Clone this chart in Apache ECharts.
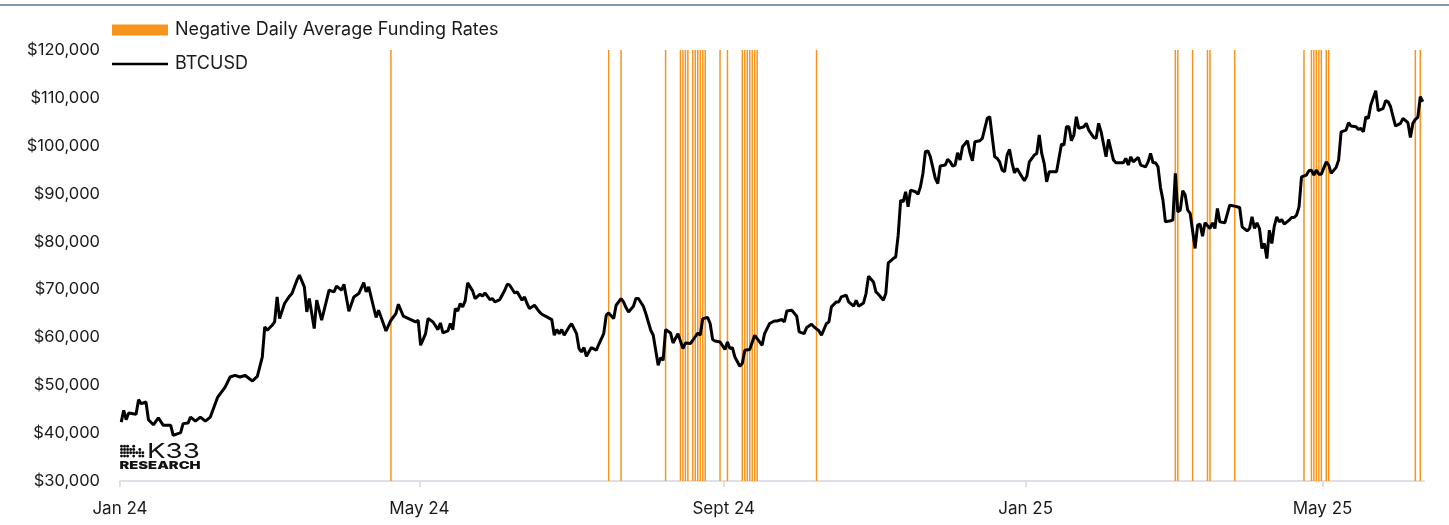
<!DOCTYPE html>
<html>
<head>
<meta charset="utf-8">
<script src="https://cdn.jsdelivr.net/npm/echarts@6/dist/echarts.min.js"></script>
<style>html,body{margin:0;padding:0;background:#fff;}#chart{width:1449px;height:525px;}</style>
</head>
<body>
<div id="chart"></div>
<script>
// ---------- DATA ----------
const btcDates = [
'2024-01-01','2024-01-02','2024-01-03','2024-01-04','2024-01-07','2024-01-08','2024-01-09','2024-01-11','2024-01-12','2024-01-14',
'2024-01-16','2024-01-18','2024-01-21','2024-01-22','2024-01-25','2024-01-26','2024-01-28','2024-01-29','2024-01-31','2024-02-02',
'2024-02-04','2024-02-06','2024-02-09','2024-02-12','2024-02-14','2024-02-16','2024-02-18','2024-02-20','2024-02-23','2024-02-25',
'2024-02-27','2024-02-28','2024-02-29','2024-03-02','2024-03-03','2024-03-04','2024-03-05','2024-03-07','2024-03-09','2024-03-10',
'2024-03-12','2024-03-13','2024-03-15','2024-03-16','2024-03-17','2024-03-19','2024-03-20','2024-03-22','2024-03-23','2024-03-25',
'2024-03-27','2024-03-28','2024-03-30','2024-03-31','2024-04-02','2024-04-04','2024-04-06','2024-04-08','2024-04-09','2024-04-10',
'2024-04-13','2024-04-14','2024-04-17','2024-04-19','2024-04-21','2024-04-22','2024-04-24','2024-04-27','2024-04-29','2024-04-30',
'2024-05-01','2024-05-03','2024-05-04','2024-05-06','2024-05-08','2024-05-09','2024-05-10','2024-05-12','2024-05-13','2024-05-14',
'2024-05-15','2024-05-16','2024-05-17','2024-05-18','2024-05-19','2024-05-20','2024-05-22','2024-05-23','2024-05-25','2024-05-26',
'2024-05-27','2024-05-29','2024-05-30','2024-05-31','2024-06-02','2024-06-04','2024-06-05','2024-06-06','2024-06-08','2024-06-09',
'2024-06-11','2024-06-12','2024-06-13','2024-06-14','2024-06-16','2024-06-18','2024-06-19','2024-06-21','2024-06-23','2024-06-24',
'2024-06-25','2024-06-26','2024-06-27','2024-06-28','2024-06-30','2024-07-01','2024-07-03','2024-07-04','2024-07-05','2024-07-06',
'2024-07-07','2024-07-09','2024-07-11','2024-07-12','2024-07-14','2024-07-15','2024-07-16','2024-07-18','2024-07-19','2024-07-21',
'2024-07-22','2024-07-23','2024-07-24','2024-07-26','2024-07-27','2024-07-28','2024-07-30','2024-07-31','2024-08-02','2024-08-03',
'2024-08-04','2024-08-05','2024-08-06','2024-08-07','2024-08-08','2024-08-10','2024-08-11','2024-08-13','2024-08-15','2024-08-16',
'2024-08-18','2024-08-19','2024-08-21','2024-08-22','2024-08-23','2024-08-25','2024-08-26','2024-08-27','2024-08-28','2024-08-30',
'2024-09-01','2024-09-02','2024-09-03','2024-09-04','2024-09-05','2024-09-07','2024-09-08','2024-09-09','2024-09-11','2024-09-13',
'2024-09-15','2024-09-16','2024-09-17','2024-09-19','2024-09-21','2024-09-22','2024-09-24','2024-09-25','2024-09-26','2024-09-28',
'2024-09-30','2024-10-01','2024-10-03','2024-10-04','2024-10-06','2024-10-07','2024-10-09','2024-10-10','2024-10-12','2024-10-13',
'2024-10-14','2024-10-16','2024-10-17','2024-10-18','2024-10-20','2024-10-21','2024-10-23','2024-10-24','2024-10-25','2024-10-27',
'2024-10-28','2024-10-29','2024-10-31','2024-11-01','2024-11-02','2024-11-04','2024-11-05','2024-11-06','2024-11-08','2024-11-09',
'2024-11-10','2024-11-11','2024-11-12','2024-11-13','2024-11-14','2024-11-15','2024-11-17','2024-11-18','2024-11-19','2024-11-20',
'2024-11-21','2024-11-22','2024-11-23','2024-11-25','2024-11-26','2024-11-27','2024-11-29','2024-11-30','2024-12-01','2024-12-02',
'2024-12-03','2024-12-04','2024-12-05','2024-12-06','2024-12-08','2024-12-09','2024-12-10','2024-12-11','2024-12-13','2024-12-14',
'2024-12-15','2024-12-16','2024-12-17','2024-12-18','2024-12-19','2024-12-20','2024-12-21','2024-12-22','2024-12-23','2024-12-24',
'2024-12-25','2024-12-26','2024-12-27','2024-12-28','2024-12-30','2024-12-31','2025-01-01','2025-01-02','2025-01-04','2025-01-05',
'2025-01-06','2025-01-07','2025-01-08','2025-01-09','2025-01-10','2025-01-12','2025-01-13','2025-01-15','2025-01-16','2025-01-17',
'2025-01-18','2025-01-19','2025-01-20','2025-01-21','2025-01-22','2025-01-24','2025-01-25','2025-01-26','2025-01-28','2025-01-29',
'2025-01-30','2025-01-31','2025-02-02','2025-02-03','2025-02-05','2025-02-06','2025-02-08','2025-02-09','2025-02-10','2025-02-11',
'2025-02-12','2025-02-13','2025-02-15','2025-02-16','2025-02-18','2025-02-19','2025-02-20','2025-02-21','2025-02-22','2025-02-23',
'2025-02-24','2025-02-25','2025-02-26','2025-02-28','2025-03-01','2025-03-02','2025-03-03','2025-03-04','2025-03-05','2025-03-06',
'2025-03-07','2025-03-08','2025-03-10','2025-03-11','2025-03-12','2025-03-13','2025-03-14','2025-03-16','2025-03-17','2025-03-18',
'2025-03-19','2025-03-20','2025-03-22','2025-03-24','2025-03-26','2025-03-28','2025-03-29','2025-03-31','2025-04-01','2025-04-02',
'2025-04-03','2025-04-04','2025-04-05','2025-04-06','2025-04-07','2025-04-08','2025-04-09','2025-04-10','2025-04-11','2025-04-12',
'2025-04-13','2025-04-14','2025-04-15','2025-04-17','2025-04-18','2025-04-19','2025-04-20','2025-04-21','2025-04-22','2025-04-24',
'2025-04-25','2025-04-26','2025-04-27','2025-04-28','2025-04-29','2025-04-30','2025-05-02','2025-05-03','2025-05-04','2025-05-06',
'2025-05-07','2025-05-08','2025-05-10','2025-05-11','2025-05-12','2025-05-14','2025-05-15','2025-05-16','2025-05-17','2025-05-18',
'2025-05-19','2025-05-20','2025-05-22','2025-05-23','2025-05-25','2025-05-26','2025-05-27','2025-05-28','2025-05-29','2025-05-30',
'2025-06-01','2025-06-02','2025-06-04','2025-06-05','2025-06-06','2025-06-07','2025-06-08','2025-06-09','2025-06-10'
];
const btcPrices = [
42300,44760,42800,44180,43920,46990,46150,46500,42800,41740,
43200,41620,41620,39540,40100,41980,42100,43350,42510,43350,
42510,43350,47530,49620,51710,52070,51710,52070,50880,51860,
55890,62170,61480,62520,63210,68440,63910,67060,68590,69150,
71930,72980,70530,65310,68100,61830,67750,63570,65660,69840,
69490,70680,69840,71090,65450,68440,69150,71440,69490,70530,
64140,65660,61340,63570,64970,66910,64420,63710,63210,63570,
58340,60780,63910,63210,61620,63000,60910,61340,62880,61620,
66010,65520,67060,66360,67600,71370,69700,68100,69000,68590,
69270,67890,68100,67400,67890,69840,71090,70880,69270,69490,
67750,68440,67060,66010,66700,65310,64820,64260,63710,60430,
61620,60780,61620,60430,62170,62880,60780,57650,56940,57860,
56050,57860,57300,58550,60780,64620,65100,63910,66700,68100,
67400,66220,65310,66500,68100,68100,66500,64970,61480,60430,
57300,54160,55770,55210,61620,60910,58820,60780,57650,58820,
58700,59390,60910,60430,63910,64140,62880,59540,59240,59040,
57450,59040,57650,57860,55890,53960,54520,57300,57450,60430,
59040,58340,60780,62880,63420,63420,63710,63210,65520,65660,
64420,61130,60780,62040,62730,62170,61340,60430,62880,63210,
66360,67400,67400,68440,68800,67400,66500,67750,66500,67190,
69150,72770,71570,69490,69000,67750,69150,75550,76460,76800,
81330,88650,88300,90400,87250,90740,90400,89900,91430,94230,
98750,98950,97700,93180,92130,95760,95970,97150,96650,95760,
95970,98540,97010,99800,101050,98540,96860,100840,101050,101550,
103640,105730,106060,101880,97700,97370,96650,94920,94570,98050,
99240,96450,94360,95270,93520,92680,93660,96650,98050,98400,
102240,98400,96320,92470,94570,94570,94570,100350,100150,103970,
103970,101050,102240,106060,103640,103970,104680,103280,101750,101550,
104680,102920,97700,101340,97010,96450,96450,96450,97370,95970,
97700,96650,97580,95970,95610,96650,98400,96450,96450,95610,
91300,88650,84110,84330,84470,94230,86200,86560,90600,89700,
86560,85870,78560,83430,83640,81130,83920,82730,83920,82730,
86910,84110,83920,87600,87400,87120,83070,82240,82730,85170,
82730,83920,82730,78560,79600,76460,82380,79600,83220,85170,
84110,84610,83640,84470,85030,85030,85520,87250,93520,93880,
94780,94920,93880,94920,94080,94080,96650,95970,94230,95490,
97010,102920,103280,104810,104120,103970,103430,103640,102920,106060,
105720,108510,111490,107310,107810,109400,109190,108150,106060,104120,
104680,105720,104810,101750,104680,105520,105930,110240,109190
];
const negativeFundingDates = [
'2024-04-19','2024-07-16','2024-07-21','2024-08-08','2024-08-14','2024-08-15','2024-08-16','2024-08-17',
'2024-08-19','2024-08-20','2024-08-21','2024-08-22','2024-08-23','2024-08-24','2024-08-30','2024-09-02',
'2024-09-08','2024-09-09','2024-09-10','2024-09-11','2024-09-12','2024-09-13','2024-09-14','2024-10-08',
'2025-03-02','2025-03-03','2025-03-09','2025-03-15','2025-03-16','2025-03-26','2025-04-23','2025-04-26',
'2025-04-27','2025-04-28','2025-04-29','2025-04-30','2025-05-02','2025-05-03','2025-06-07','2025-06-09'
];
const xTickDates = ['2024-01-01','2024-05-01','2024-09-01','2025-01-01','2025-05-01'];
const xTickLabels = ['Jan 24','May 24','Sept 24','Jan 25','May 25'];
const xRangeEnd = '2025-06-11';
const yTicks = [30000,40000,50000,60000,70000,80000,90000,100000,110000,120000];
const seriesNames = ['Negative Daily Average Funding Rates','BTCUSD'];

// ---------- HELPERS ----------
const FONT = 'Inter, "Noto Sans", sans-serif';
const DAY = 86400000;
function dayStart(s){ const p = s.split('-').map(Number); return Date.UTC(p[0], p[1]-1, p[2]); }
function dayMid(s){ return dayStart(s) + DAY/2; } // each day drawn at its midpoint
const Y_MIN = yTicks[0], Y_MAX = yTicks[yTicks.length-1];

const lineData = btcDates.map((d,i)=>[dayMid(d), btcPrices[i]]);
const barData = negativeFundingDates.map(d=>[dayMid(d), Y_MAX]);
const tickValues = xTickDates.map(dayStart);
const labelMap = {}; tickValues.forEach((t,i)=>labelMap[t]=xTickLabels[i]);

// logo dot pattern (decoration)
const dotPattern = [
  [1,1,1,1],[1,1,1,1],[1,1,1,1],[0,1,1,0],[1,1,1,1],[0,0,1,0],[0,1,1,1],[0,0,1,1]
];
const logoDots = [];
dotPattern.forEach((col,ci)=>col.forEach((on,ri)=>{ if(on) logoDots.push({type:'circle', shape:{cx:121.5+ci*3.05, cy:446.2+ri*3.3, r:1.45}, style:{fill:'#111'}}); }));

const chart = echarts.init(document.getElementById('chart'), null, {renderer:'canvas'});
chart.setOption({
  animation:false,
  backgroundColor:'#ffffff',
  textStyle:{fontFamily:FONT},
  grid:{left:120, right:25, top:50, bottom:44},
  legend:{
    orient:'vertical', left:112, top:21, padding:0, itemWidth:56, itemHeight:11, itemGap:16,
    textStyle:{fontSize:18, color:'#1a1a1a', fontFamily:FONT, padding:[0,0,0,2]},
    data:[
      {name:seriesNames[0], icon:'rect'},
      {name:seriesNames[1], icon:'path://M0,0H56V2.4H0Z'}
    ]
  },
  xAxis:{
    type:'value',
    min: tickValues[0],
    max: dayStart(xRangeEnd),
    axisLine:{show:true, onZero:false, lineStyle:{color:'#dde1e7', width:2}},
    axisTick:{show:true, customValues:tickValues, length:6, lineStyle:{color:'#dde1e7', width:2}},
    axisLabel:{customValues:tickValues, fontSize:17, color:'#1a1a1a', margin:19, fontFamily:FONT,
      formatter:(v)=>labelMap[v] || ''},
    splitLine:{show:false}
  },
  yAxis:{
    type:'value', min:Y_MIN, max:Y_MAX, interval:10000,
    axisLine:{show:false}, axisTick:{show:false}, splitLine:{show:false},
    axisLabel:{fontSize:16.5, color:'#1a1a1a', margin:20, fontFamily:FONT,
      formatter:(v)=>'$'+v.toLocaleString('en-US')}
  },
  series:[
    { name:seriesNames[0], type:'bar', data:barData, barWidth:1.5,
      itemStyle:{color:'#f7941d'}, z:1 },
    { name:seriesNames[1], type:'line', data:lineData, symbol:'none', showSymbol:false,
      lineStyle:{color:'#000000', width:3}, itemStyle:{color:'#000000'}, z:3 }
  ],
  graphic:[
    {type:'line', shape:{x1:0, y1:5, x2:1449, y2:5}, style:{stroke:'#5f7892', lineWidth:1.5}, silent:true},
    {type:'group', silent:true, children: logoDots.concat([
      {type:'text', x:147, y:441, scaleX:1.35, style:{text:'K33', font:'400 20.5px '+FONT, fill:'#111'}},
      {type:'text', x:119.5, y:460.8, scaleX:1.4, style:{text:'RESEARCH', font:'900 10.5px '+FONT, fill:'#111'}}
    ])}
  ]
});
</script>
</body>
</html>
